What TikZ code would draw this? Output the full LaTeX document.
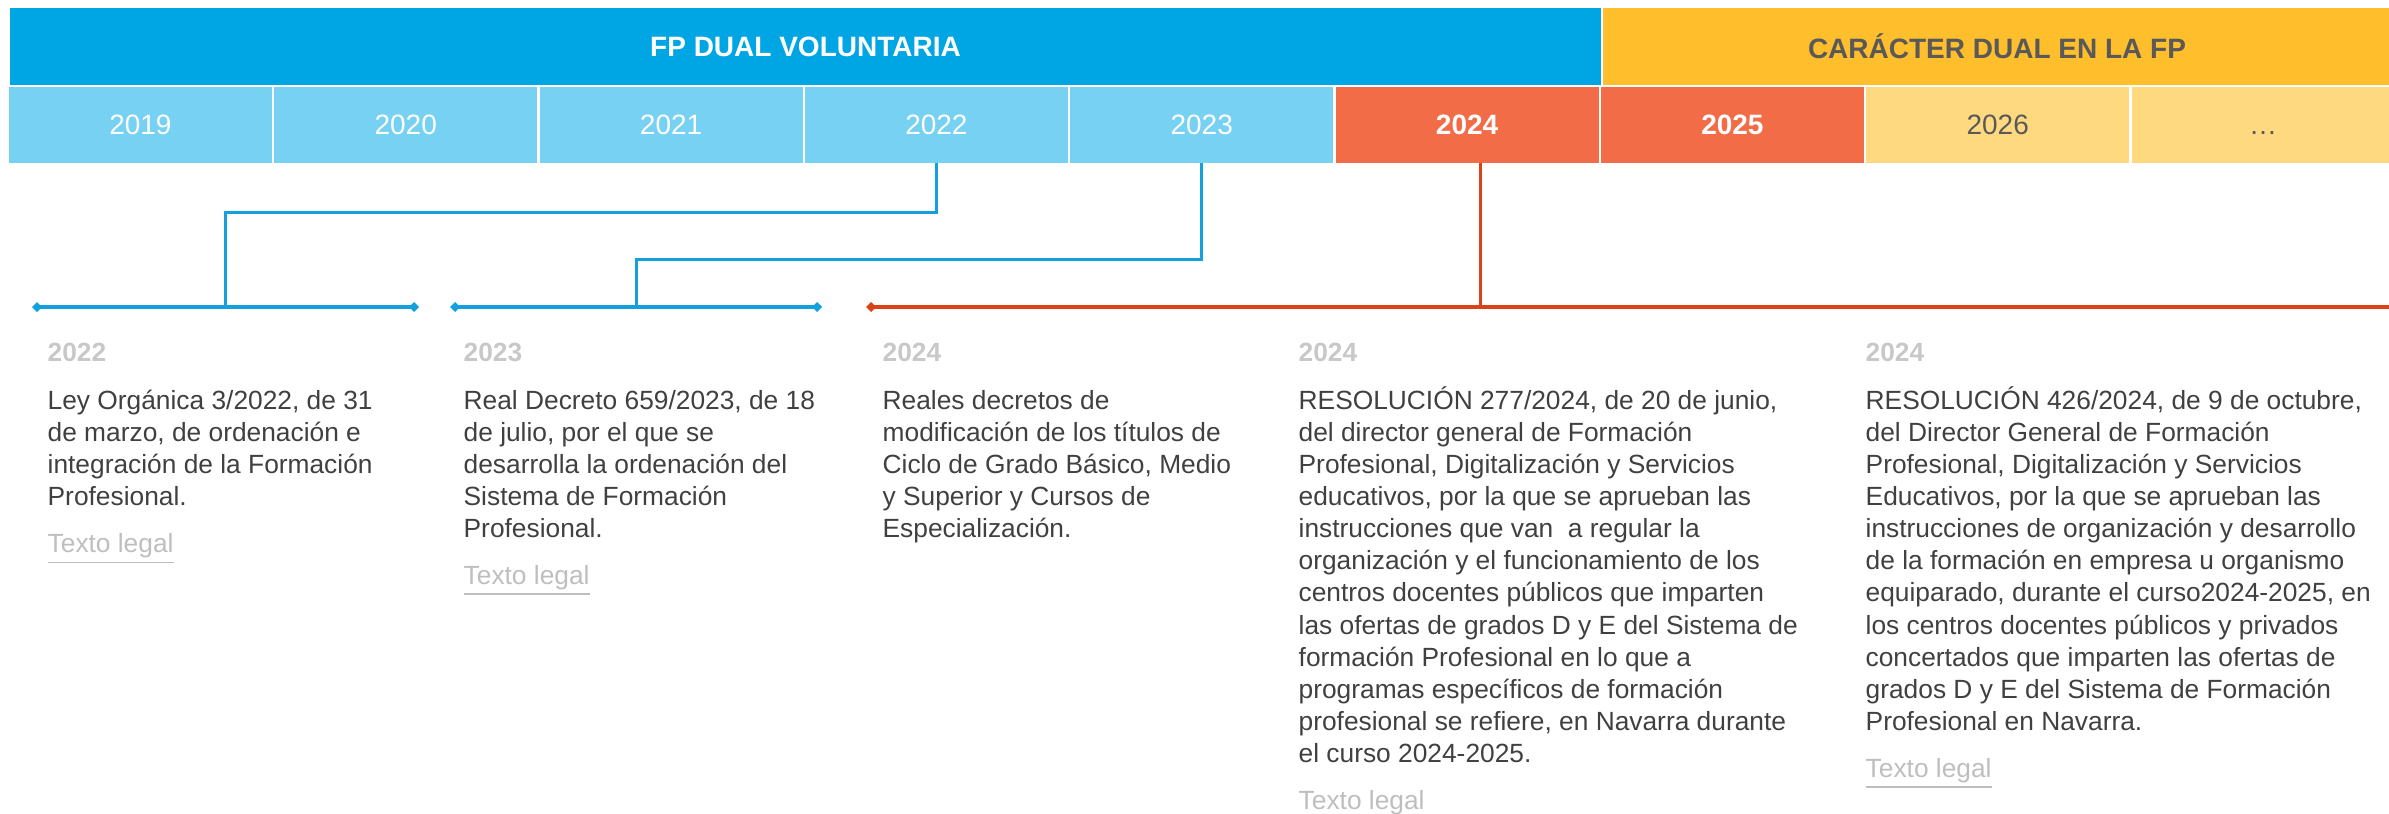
\documentclass[tikz,border=0pt]{standalone}
\usepackage{fontspec}
\setmainfont{Liberation Sans}
\usetikzlibrary{arrows.meta}

\definecolor{bandblue}{RGB}{0,166,227}
\definecolor{bandyellow}{RGB}{255,190,44}
\definecolor{cellblue}{RGB}{118,209,243}
\definecolor{cellred}{RGB}{242,108,72}
\definecolor{cellyellow}{RGB}{255,217,128}
\definecolor{titlegray}{RGB}{89,89,89}
\definecolor{bodygray}{RGB}{64,64,64}
\definecolor{labelgray}{RGB}{200,200,200}
\definecolor{linkgray}{RGB}{190,190,190}
\definecolor{lineblue}{RGB}{20,160,222}
\definecolor{linered}{RGB}{218,66,24}

\tikzset{
  band/.style={anchor=north west, inner sep=0pt, outer sep=0pt, minimum height=23.1pt, font=\fontsize{8.4}{10}\selectfont\bfseries},
  cell/.style={anchor=north west, inner sep=0pt, outer sep=0pt, minimum width=78.85pt, minimum height=22.8pt, text height=6pt, text depth=0pt, font=\fontsize{8.4}{10}\selectfont},
  pastcell/.style={cell, fill=cellblue, text=white},
  nowcell/.style={cell, fill=cellred, text=white, font=\fontsize{8.4}{10}\selectfont\bfseries},
  nextcell/.style={cell, fill=cellyellow, text=titlegray},
  yearlabel/.style={anchor=base west, inner sep=0pt, text=labelgray, font=\fontsize{7.9}{9.63}\selectfont\bfseries},
  bodytext/.style={anchor=base west, inner sep=0pt, text=bodygray, font=\fontsize{7.9}{9.63}\selectfont},
  legal/.style={anchor=base west, inner sep=0pt, text=linkgray, font=\fontsize{7.9}{9.63}\selectfont},
  bluetl/.style={draw=lineblue, line width=1.2pt, arrows={Diamond[length=3pt,width=3pt]-Diamond[length=3pt,width=3pt]}},
  redtl/.style={draw=linered, line width=1.2pt, arrows={Diamond[length=3pt,width=3pt]-}},
  bluelink/.style={draw=lineblue, line width=0.9pt},
  redlink/.style={draw=linered, line width=0.9pt}
}

\begin{document}
\begin{tikzpicture}[x=0.3pt,y=-0.3pt]
\useasboundingbox (0,0) rectangle (2389,814);

% bands
\node[band, fill=bandblue, text=white, minimum width=477.3pt] (voluntaria) at (10,8) {FP DUAL VOLUNTARIA};
\node[band, fill=bandyellow, text=titlegray, minimum width=236.4pt] (caracter) at (1603,8) {CARÁCTER DUAL EN LA FP};

% years
\foreach \i/\yr/\kind in {0/2019/pastcell,1/2020/pastcell,2/2021/pastcell,3/2022/pastcell,4/2023/pastcell,5/2024/nowcell,6/2025/nowcell,7/2026/nextcell,8/…/nextcell}
  \node[\kind] (c\i) at ({9+265.33*\i},87) {\yr};

% timeline
\coordinate (a1) at (32,307);
\coordinate (a2) at (419,307);
\coordinate (b1) at (450,307);
\coordinate (b2) at (822,307);
\coordinate (r1) at (866,307);
\coordinate (r2) at (2389,307);
\coordinate (k22) at (225.5,307);
\coordinate (k23) at (636,307);
\coordinate (k24) at (1480,307);
\coordinate (m22) at (225.5,212);
\coordinate (m23) at (636,259);
\draw[bluetl] (a1) -- (a2);
\draw[bluetl] (b1) -- (b2);
\draw[redtl] (r1) -- (r2);
\draw[bluelink] (c3.south) |- (m22) -- (k22);
\draw[bluelink] (c4.south) |- (m23) -- (k23);
\draw[redlink] (c5.south -| k24) -- (k24);

% texts
\node[yearlabel] (y1) at (47,361.7) {2022};
\node[bodytext] (t1) at (47,409.3) {\parbox[t]{170pt}{\raggedright Ley Orgánica 3/2022, de 31\\de marzo, de ordenación e\\integración de la Formación\\Profesional.}};
\node[legal] (l1) at (47,552.3) {\underline{Texto legal}};

\node[yearlabel] (y2) at (463,361.7) {2023};
\node[bodytext] (t2) at (463,409.3) {\parbox[t]{170pt}{\raggedright Real Decreto 659/2023, de 18\\de julio, por el que se\\desarrolla la ordenación del\\Sistema de Formación\\Profesional.}};
\node[legal] (l2) at (463,584) {\underline{Texto legal}};

\node[yearlabel] (y3) at (882,361.7) {2024};
\node[bodytext] (t3) at (882,409.3) {\parbox[t]{170pt}{\raggedright Reales decretos de\\modificación de los títulos de\\Ciclo de Grado Básico, Medio\\y Superior y Cursos de\\Especialización.}};

\node[yearlabel] (y4) at (1298,361.7) {2024};
\node[bodytext] (t4) at (1298,409.3) {\parbox[t]{170pt}{\raggedright RESOLUCIÓN 277/2024, de 20 de junio,\\del director general de Formación\\Profesional, Digitalización y Servicios\\educativos, por la que se aprueban las\\instrucciones que van~ a regular la\\organización y el funcionamiento de los\\centros docentes públicos que imparten\\las ofertas de grados D y E del Sistema de\\formación Profesional en lo que a\\programas específicos de formación\\profesional se refiere, en Navarra durante\\el curso 2024-2025.}};
\node[legal] (l4) at (1298,809) {\underline{Texto legal}};

\node[yearlabel] (y5) at (1865,361.7) {2024};
\node[bodytext] (t5) at (1865,409.3) {\parbox[t]{170pt}{\raggedright RESOLUCIÓN 426/2024, de 9 de octubre,\\del Director General de Formación\\Profesional, Digitalización y Servicios\\Educativos, por la que se aprueban las\\instrucciones de organización y desarrollo\\de la formación en empresa u organismo\\equiparado, durante el curso2024-2025, en\\los centros docentes públicos y privados\\concertados que imparten las ofertas de\\grados D y E del Sistema de Formación\\Profesional en Navarra.}};
\node[legal] (l5) at (1865,777) {\underline{Texto legal}};
\end{tikzpicture}
\end{document}
